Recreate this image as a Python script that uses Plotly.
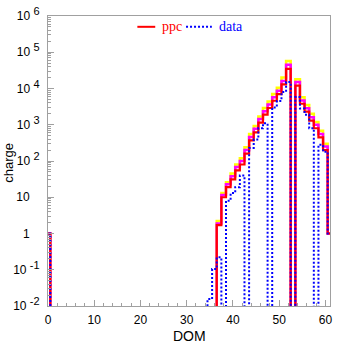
import plotly.graph_objects as go

# ---- data ----
dom = list(range(0, 62))

ppc = ([1] + [0] * 36 +
       [1.7, 10, 19, 31, 55, 80, 160, 370, 620, 1150, 1900, 2900, 4600,
        7000, 13000, 35000, 0, 12000, 3800, 2300, 1300, 800, 450, 200, 1])

ppc_hi = ([1] + [0] * 36 +
          [2.2, 13, 26, 45, 80, 120, 240, 560, 930, 1700, 2900, 4400, 7000,
           10500, 20000, 57000, 0, 18000, 5700, 3500, 2000, 1200, 680, 300, 1])

ppc_mid = ([1] + [0] * 36 +
           [1.9, 11.5, 23, 38, 68, 100, 200, 460, 770, 1430, 2370, 3600, 5700,
            8700, 16200, 45000, 0, 15000, 4700, 2870, 1620, 1000, 560, 250, 1])

data = ([1] + [0] * 34 +
        [0.0155, 0.105, 0.22, 0, 8, 13, 19, 40, 0, 230, 390, 800, 1100, 0,
         3000, 4500, 8000, 15000, 0, 5800, 2800, 1900, 800, 0, 280, 180, 1])

y_tick_vals = [1e-2, 1e-1, 1, 10, 1e2, 1e3, 1e4, 1e5, 1e6]
SUP = "<sup><span style='font-size:11px'>%s</span></sup>"
NB = "\u00a0"
y_tick_text = ["10" + NB + SUP % "-2", "10" + NB + SUP % "-1",
               "1" + NB * 3, "10" + NB * 3,
               "10" + NB + SUP % "2", "10" + NB + SUP % "3",
               "10" + NB + SUP % "4", "10" + NB + SUP % "5",
               "10" + NB + SUP % "6"]
x_tick_vals = [0, 10, 20, 30, 40, 50, 60]

FLOOR = 1e-4


def steps(vals):
    xs = [dom[0] - 0.5]
    ys = [FLOOR]
    for d, v in zip(dom, vals):
        xs.append(d - 0.5)
        ys.append(v if v > 0 else FLOOR)
    xs.append(dom[-1] + 0.5)
    ys.append(FLOOR)
    return xs, ys


fig = go.Figure()
for vals, col, w, dash in [(ppc_hi, "#ffff00", 2.5, "solid"),
                           (ppc_mid, "#ff00ff", 2.5, "solid"),
                           (ppc, "#ff0000", 2.2, "solid"),
                           (data, "#0000ff", 2, "2px,2px")]:
    xs, ys = steps(vals)
    fig.add_trace(go.Scatter(x=xs, y=ys, mode="lines", line_shape="hv",
                             line=dict(color=col, width=w, dash=dash),
                             hoverinfo="skip"))

gray = "#a0a0a0"
font = dict(family="Liberation Sans, Arial, sans-serif", size=12, color="black")

fig.update_xaxes(range=[0, 61], tickmode="array", tickvals=x_tick_vals,
                 ticks="inside", ticklen=6, tickcolor=gray, tickwidth=1,
                 showline=True, mirror=True, linecolor=gray, linewidth=1,
                 showgrid=False, zeroline=False, tickfont=font,
                 ticklabelstandoff=3,
                 minor=dict(tickmode="linear", tick0=0, dtick=2, ticks="inside",
                            ticklen=3, tickcolor=gray, showgrid=False))

minor_y = [k * 10.0 ** e for e in range(-2, 6) for k in range(2, 10)]
fig.update_yaxes(type="log", range=[-2, 6], tickmode="array",
                 tickvals=y_tick_vals, ticktext=y_tick_text,
                 ticks="inside", ticklen=6, tickcolor=gray, tickwidth=1,
                 showline=True, mirror=True, linecolor=gray, linewidth=1,
                 showgrid=False, zeroline=False, tickfont=font,
                 ticklabelstandoff=5,
                 minor=dict(tickmode="array", tickvals=minor_y, ticks="inside",
                            ticklen=3, tickcolor=gray, showgrid=False))

# legend drawn by hand
ly = (306 - 22) / 295.0
def px(x):
    return (x - 48) / 284.0

fig.add_shape(type="line", xref="paper", yref="paper", x0=px(138), x1=px(156),
              y0=ly, y1=ly, line=dict(color="#ff0000", width=2))
fig.add_shape(type="line", xref="paper", yref="paper", x0=px(187), x1=px(213),
              y0=ly, y1=ly, line=dict(color="#0000ff", width=2, dash="2px,2px"))
serif = dict(family="Liberation Serif, Times New Roman, serif", size=14)
fig.add_annotation(text="ppc", xref="paper", yref="paper", x=px(161), y=ly,
                   xanchor="left", yanchor="middle", showarrow=False,
                   font=dict(color="#ff0000", **serif))
fig.add_annotation(text="data", xref="paper", yref="paper", x=px(218), y=ly,
                   xanchor="left", yanchor="middle", showarrow=False,
                   font=dict(color="#0000ff", **serif))

# axis titles
fig.add_annotation(text="DOM", xref="paper", yref="paper", x=px(191),
                   y=(306 - 337) / 295.0, xanchor="center", yanchor="middle",
                   showarrow=False,
                   font=dict(family="Liberation Sans, Arial, sans-serif",
                             size=14, color="black"))
fig.add_annotation(text="charge", xref="paper", yref="paper", x=px(8),
                   y=(306 - 160) / 295.0, xanchor="center", yanchor="middle",
                   textangle=-90, showarrow=False,
                   font=dict(family="Liberation Sans, Arial, sans-serif",
                             size=13, color="black"))

fig.update_layout(width=337, height=344, showlegend=False,
                  margin=dict(l=48, r=5, t=11, b=38),
                  plot_bgcolor="white", paper_bgcolor="white")

fig.write_html("out.html")
